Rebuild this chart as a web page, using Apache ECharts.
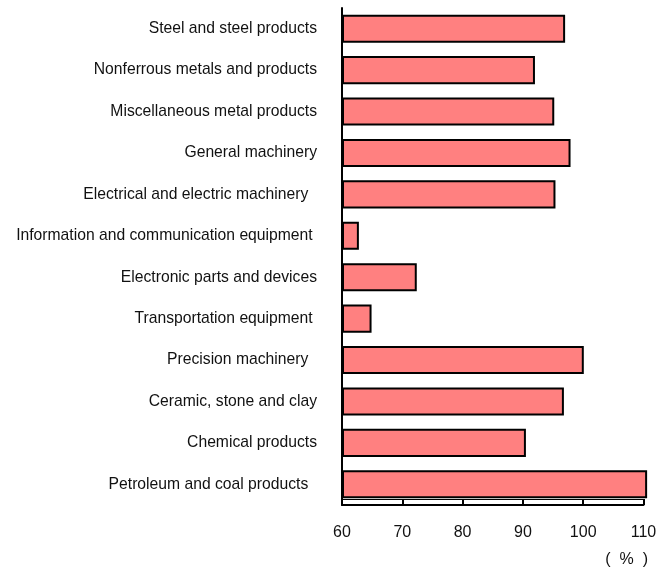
<!DOCTYPE html>
<html>
<head>
<meta charset="utf-8">
<script src="https://cdn.jsdelivr.net/npm/echarts@6/dist/echarts.min.js"></script>
<style>
  html, body { margin: 0; padding: 0; background: #fff; }
  #chart { width: 656px; height: 567px; }
</style>
</head>
<body>
<div id="chart"></div>
<script>
// Industry categories, top to bottom
const categories = [
  'Steel and steel products',
  'Nonferrous metals and products',
  'Miscellaneous metal products',
  'General machinery',
  'Electrical and electric machinery  ',
  'Information and communication equipment ',
  'Electronic parts and devices',
  'Transportation equipment ',
  'Precision machinery  ',
  'Ceramic, stone and clay',
  'Chemical products',
  'Petroleum and coal products  '
];

// Index values (%)
const values = [97.0, 92.0, 95.2, 97.9, 95.4, 62.8, 72.4, 64.9, 100.1, 96.8, 90.5, 110.6];

// Value-axis ticks
const tickMin = 60;
const tickMax = 110;
const tickStep = 10;

const chart = echarts.init(document.getElementById('chart'), null, { renderer: 'canvas' });

const font = 'Liberation Sans, Arial, sans-serif';

chart.setOption({
  animation: false,
  backgroundColor: '#ffffff',
  title: {
    text: '(  %  )',
    right: 3,
    top: 547,
    textStyle: { fontFamily: font, fontSize: 16, fontWeight: 'normal', color: '#111' }
  },
  grid: {
    left: 342, right: 12.5, top: 8, bottom: 62,
    containLabel: false,
    outerBoundsMode: 'none'
  },
  xAxis: [
    {
      type: 'value',
      min: tickMin,
      max: tickMax,
      interval: tickStep,
      startValue: tickMin,
      position: 'bottom',
      axisLine: { show: true, lineStyle: { color: '#000', width: 2 } },
      axisTick: { show: true, inside: true, length: 6, lineStyle: { color: '#000', width: 2 } },
      axisLabel: { margin: 20, fontFamily: font, fontSize: 16, color: '#111' },
      splitLine: { show: false }
    },
    {
      type: 'value',
      min: tickMin,
      max: tickMax,
      interval: tickStep,
      position: 'bottom',
      offset: -6,
      axisLine: { show: true, lineStyle: { color: '#000', width: 1 } },
      axisTick: { show: false },
      axisLabel: { show: false },
      splitLine: { show: false }
    }
  ],
  yAxis: {
    type: 'category',
    data: categories,
    inverse: true,
    axisLine: { show: true, lineStyle: { color: '#000', width: 2 } },
    axisTick: { show: false },
    axisLabel: { margin: 25, fontFamily: font, fontSize: 15.7, color: '#111' }
  },
  series: [
    {
      type: 'bar',
      data: values,
      xAxisIndex: 0,
      clip: false,
      barCategoryGap: '32%',
      itemStyle: { color: '#FF8080', borderColor: '#000', borderWidth: 2 }
    }
  ]
});
</script>
</body>
</html>
